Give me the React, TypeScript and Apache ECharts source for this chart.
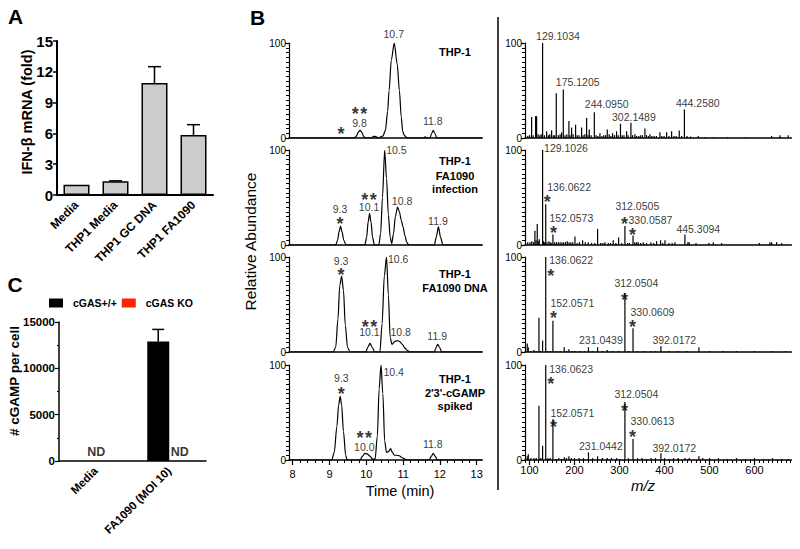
import React, { useEffect, useRef } from 'react';
import * as echarts from 'echarts';

const FONT = "'Liberation Sans', Arial, Helvetica, sans-serif";

// ---------- Panel A ----------
const aCategories = ['Media', 'THP1 Media', 'THP1 GC DNA', 'THP1 FA1090'];
const aValues = [1.0, 1.33, 10.9, 5.85];
const aErrors = [0, 0.05, 1.6, 1.0];

// ---------- Panel C ----------
const cCategories = ['Media', 'FA1090 (MOI 10)'];
const cWildType = [0, 12900];
const cWildTypeError = [0, 1300];
const cKnockout = [0, 0];
const cNotDetected: [number, number, string][] = [[0, 0, 'ND'], [1, 0, 'ND']];

// ---------- Panel B: chromatograms ----------
const chromTimeTicks = [8, 9, 10, 11, 12, 13];
const chromNames = [
  ['THP-1'],
  ['THP-1', 'FA1090', 'infection'],
  ['THP-1', 'FA1090 DNA'],
  ['THP-1', "2'3'-cGAMP", 'spiked'],
];
const chromTHP1 = [
  [7.9, 0], [9.68, 0], [9.73, 2], [9.78, 6], [9.83, 8], [9.88, 6], [9.93, 1.5], [9.98, 0], [10.14, 0], [10.2, 1.8], [10.26, 1.5], [10.32, 0],
  [10.45, 2], [10.52, 8], [10.58, 28], [10.62, 50], [10.68, 82], [10.76, 100], [10.84, 78], [10.9, 50], [10.95, 22], [10.99, 7], [11.03, 3], [11.08, 1], [11.14, 0],
  [11.55, 0], [11.6, 1.2], [11.65, 0], [11.73, 0], [11.78, 5], [11.82, 8], [11.86, 5], [11.92, 0], [13.15, 0],
];
const chromInfection = [
  [7.9, 0], [9.17, 0], [9.22, 5], [9.26, 14], [9.3, 20], [9.34, 14], [9.39, 5], [9.45, 0], [9.96, 0], [10.01, 8], [10.05, 24], [10.09, 33], [10.13, 24], [10.17, 8], [10.22, 0],
  [10.34, 0], [10.39, 12], [10.44, 50], [10.5, 100], [10.55, 70], [10.6, 32], [10.65, 8], [10.69, 1.5], [10.74, 12], [10.79, 30], [10.85, 40], [10.9, 35], [10.95, 26], [11.0, 19], [11.05, 10], [11.1, 3], [11.15, 0],
  [11.85, 0], [11.9, 8], [11.96, 19], [12.02, 8], [12.08, 0], [13.15, 0],
];
const chromDNA = [
  [7.9, 0], [9.1, 0], [9.17, 5], [9.23, 35], [9.28, 70], [9.33, 80], [9.38, 65], [9.43, 28], [9.49, 5], [9.56, 0], [9.99, 0], [10.04, 5], [10.1, 9], [10.16, 5], [10.23, 0],
  [10.37, 0], [10.43, 30], [10.49, 80], [10.55, 100], [10.6, 60], [10.65, 15], [10.7, 8], [10.77, 11], [10.84, 12], [10.91, 11], [10.98, 8], [11.05, 4], [11.12, 1.5], [11.19, 0],
  [11.85, 0], [11.9, 5], [11.94, 8], [11.99, 5], [12.05, 0], [13.15, 0],
];
const chromSpiked = [
  [7.9, 0], [9.06, 0], [9.13, 8], [9.2, 35], [9.25, 58], [9.29, 67], [9.33, 58], [9.38, 30], [9.44, 5], [9.48, 0], [9.83, 0], [9.9, 4], [9.96, 7], [10.02, 6.5], [10.1, 4], [10.17, 1], [10.24, 1],
  [10.3, 25], [10.35, 75], [10.4, 100], [10.45, 70], [10.5, 20], [10.55, 8], [10.61, 9], [10.66, 12], [10.71, 8], [10.76, 5], [10.83, 5], [10.9, 4.5], [10.95, 3], [11.0, 2], [11.05, 1], [11.1, 0],
  [11.71, 0], [11.77, 4], [11.82, 7], [11.87, 4], [11.93, 0], [13.15, 0],
];
const chromLabels1: [number, number, string][] = [[9.33, 0, '*'], [9.83, 8, '**'], [9.83, 8, '9.8'], [10.76, 100, '10.7'], [11.82, 8, '11.8']];
const chromLabels2: [number, number, string][] = [[9.3, 20, '9.3'], [9.3, 20, '*'], [10.09, 33, '**'], [10.09, 33, '10.1'], [10.5, 100, '10.5'], [10.85, 40, '10.8'], [11.96, 19, '11.9']];
const chromLabels3: [number, number, string][] = [[9.33, 80, '9.3'], [9.33, 80, '*'], [10.1, 9, '**'], [10.1, 9, '10.1'], [10.55, 100, '10.6'], [10.84, 12, '10.8'], [11.94, 8, '11.9']];
const chromLabels4: [number, number, string][] = [[9.29, 67, '9.3'], [9.29, 67, '*'], [9.96, 7, '**'], [9.96, 7, '10.0'], [10.4, 100, '10.4'], [11.82, 7, '11.8']];

// ---------- Panel B: mass spectra ----------
const mzTicks = [100, 200, 300, 400, 500, 600];
const msTHP1 = [
  [96, 2], [100, 3], [104.7, 22], [108, 3], [113.5, 23], [115.8, 23], [119, 4], [123, 3], [126, 4], [129.1034, 100], [133, 3], [138, 7], [142, 3], [145, 4], [149.1, 8], [153, 3], [156, 3],
  [159.5, 47], [164, 3], [168, 4], [171.3, 6], [175.1205, 51], [179, 3], [183, 4], [187.6, 18], [190, 3], [193.5, 11], [197, 4], [202.4, 14], [206, 3], [210, 3], [215.8, 11], [219, 3], [223, 4],
  [226.9, 21], [230, 3], [232.8, 9], [237, 3], [244.095, 27], [248, 3], [252, 2], [256.5, 5], [261, 2], [265, 3], [269, 3], [272.8, 9], [277, 4], [281, 2], [284.7, 5], [289, 3], [293.5, 7], [297, 3],
  [302.1489, 15], [306, 3], [310, 3], [315.8, 7], [319, 3], [325.4, 16], [329, 3], [334.3, 4], [338, 2], [343, 2], [347, 3], [351, 3], [356.5, 10], [360, 3], [364, 2], [367.6, 4], [372, 2], [377, 2],
  [382, 2], [389.8, 6], [394, 2], [399, 2], [404.7, 6], [410, 2], [415.8, 7], [421, 2], [426, 2], [432.8, 8], [438, 2], [444.258, 30], [450, 2], [458, 1.5], [475, 2], [490, 1], [510, 1], [540, 1],
  [580, 1], [638, 2], [656.5, 3], [675, 3],
];
const msInfection = [
  [96, 3], [101, 3], [105, 4], [109, 3], [112, 15], [114.5, 5], [117.2, 22], [119.5, 4], [121.7, 6], [129.1026, 100], [131, 4], [133, 3], [136.0622, 43], [139, 3], [143.2, 4], [146, 3], [149, 2],
  [152.0573, 11], [156, 3], [160, 3], [164, 3], [168, 3], [172, 3], [176, 3], [180, 3], [184, 4], [188, 3], [192, 3], [196, 3], [201, 9], [206, 2], [211, 3], [218, 5], [224, 3], [230.6, 3], [238, 2],
  [245, 2], [251.3, 17], [258, 2], [263, 2], [267.6, 3], [275, 2], [280, 2], [286.1, 5], [292, 2], [298, 8], [305, 2], [312.0505, 20], [318, 2], [322, 2], [330.0587, 10], [334, 3], [338, 3],
  [341.7, 3], [347, 2], [352.8, 3], [360, 2], [369.8, 3], [376, 2], [382.4, 4], [391.3, 5], [396, 2], [401, 5], [410, 2], [417, 2], [423.2, 3], [445.3094, 11], [452, 3], [455, 3], [470, 2],
  [498.7, 2], [508.4, 3], [526.9, 2], [610.6, 2], [634.3, 3], [638, 3], [649.1, 3], [660.2, 2],
];
const msDNA = [
  [95, 9], [97.3, 5], [103, 1], [109.8, 2], [115, 1], [121, 36], [125, 1], [129.1, 12], [136.0622, 100], [140, 1], [146, 1], [152.0571, 33], [160, 1], [168, 1], [177.2, 5], [182, 1], [187.6, 3],
  [195, 1], [200.9, 1], [212, 1], [222, 1], [231.0439, 5], [240, 1], [251.3, 5], [262, 1], [272.8, 2], [285, 1], [298, 1], [312.0504, 62], [320, 1], [330.0609, 25], [340, 1], [355, 1],
  [370, 1], [380, 1], [392.0172, 6], [410, 1], [430, 1], [450, 1], [476.5, 5], [500, 1], [530, 1], [560, 1], [600, 1], [640, 1], [670, 1],
];
const msSpiked = [
  [95, 4], [97.3, 6], [103, 2], [109.8, 2], [115, 2], [121, 57], [125, 2], [129.1, 15], [136.0623, 100], [141, 2], [146, 2], [152.0571, 43], [158, 1], [165, 2], [172, 1], [177.2, 3], [182, 2],
  [187.6, 4], [193, 2], [200, 2], [210, 2], [220, 2], [231.0442, 8], [240, 2], [251.3, 4], [262, 2], [272.8, 2], [282, 2], [293.5, 2], [302, 1], [312.0504, 61], [320, 2], [330.0613, 22],
  [340, 2], [350, 2], [360, 1], [370, 2], [380, 2], [392.0172, 7], [400, 2], [410, 1], [420, 2], [430, 2], [445.4, 2], [455, 2], [476.5, 4], [485, 2], [500, 2], [520, 2], [540, 1], [560, 2],
  [580, 1], [600, 2], [620, 1], [640, 2], [660, 1], [675, 1],
];
const msLabels1: [number, number, string][] = [[129.1034, 100, '129.1034'], [175.1205, 51, '175.1205'], [244.095, 27, '244.0950'], [302.1489, 15, '302.1489'], [444.258, 30, '444.2580']];
const msLabels2: [number, number, string][] = [
  [129.1026, 100, '129.1026'], [136.0622, 43, '136.0622'], [136.0622, 43, '*'], [152.0573, 11, '152.0573'], [152.0573, 11, '*'],
  [312.0505, 20, '312.0505'], [312.0505, 20, '*'], [330.0587, 10, '330.0587'], [330.0587, 10, '*'], [445.3094, 11, '445.3094'],
];
const msLabels3: [number, number, string][] = [
  [136.0622, 100, '136.0622'], [136.0622, 100, '*'], [152.0571, 33, '152.0571'], [152.0571, 33, '*'], [312.0504, 62, '312.0504'], [312.0504, 62, '*'],
  [330.0609, 25, '330.0609'], [330.0609, 25, '*'], [231.0439, 5, '231.0439'], [392.0172, 6, '392.0172'],
];
const msLabels4: [number, number, string][] = [
  [136.0623, 100, '136.0623'], [136.0623, 100, '*'], [152.0571, 43, '152.0571'], [152.0571, 43, '*'], [312.0504, 61, '312.0504'], [312.0504, 61, '*'],
  [330.0613, 22, '330.0613'], [330.0613, 22, '*'], [231.0442, 8, '231.0442'], [392.0172, 7, '392.0172'],
];

// ---------- layout (pixel offsets of annotations: [dx, dy, align]) ----------
const chromLayout = [
  [[0, -8], [0, -20], [0, -3.5], [0, -4.7], [0, -5.4]],
  [[0, -12.7], [0, -5.3], [0, -17], [0, -2.3], [2, 4, 'left'], [5, -2], [0, -2.3]],
  [[0, -11], [0, -4.3], [0, -20.5], [0, -7.3], [2, 5.7, 'left'], [4, -4.3], [0, -4]],
  [[1.7, -14], [1.7, -5.7], [0, -18.5], [0, -2.6], [3, 11, 'left'], [0, -5]],
];
const msLayout = [
  [[-6, -3, 'left'], [-7, -3, 'left'], [-9, -4, 'left'], [-8, -3, 'left'], [-8, -2, 'left']],
  [[2, 2, 'left'], [2, -13.4, 'left'], [2, -6], [-3, -12.6, 'left'], [1, -5.6], [-9, -16, 'left'], [0, -6], [-4, -11.3, 'left'], [0, -4], [-8, -1.7, 'left']],
  [[4, 7.3, 'left'], [5.6, 15.6], [-2, -13.4, 'left'], [1, -6], [-10, -6, 'left'], [0, 3.4], [-2, -12.3, 'left'], [0, -4.7], [-9, -2.7, 'left'], [-8, -1.7, 'left']],
  [[4, 8.4, 'left'], [5.6, 15.7], [-2, -2.3, 'left'], [1, 4.4], [-10, -4.3, 'left'], [0, 5], [-2, -14, 'left'], [0, -5.6], [-9, -2.4, 'left'], [-8, -1.7, 'left']],
];

const chromTop = [43, 150, 257, 365];
const panelH = 95;

function labelItem(entry: [number, number, string], layout: any[]) {
  const [x, y, text] = entry;
  const [dx, dy, align] = layout;
  const star = /^\*+$/.test(text);
  const fs = star ? 18 : 10.5;
  return {
    value: [x, y],
    label: {
      show: true,
      formatter: star ? text.split('').join('\u200A') : text,
      position: [dx, star ? dy + 0.228 * fs : dy - 0.347 * fs],
      align: align || 'center',
      verticalAlign: 'middle',
      fontSize: fs,
      lineHeight: star ? 4 : 7,
      fontWeight: star ? 'bold' : 'normal',
      fontFamily: FONT,
      color: '#000',
    },
  };
}

function errorRender(offset: number, half: number) {
  return (_params: any, api: any) => {
    const x = api.value(0);
    const v = api.value(1);
    const e = api.value(2);
    if (!e) return { type: 'group', children: [] };
    const p0 = api.coord([x, v]);
    const p1 = api.coord([x, v + e]);
    const cx = p0[0] + offset;
    return {
      type: 'group',
      children: [
        { type: 'line', shape: { x1: cx, y1: p0[1], x2: cx, y2: p1[1] }, style: { stroke: '#000', lineWidth: 1.5 } },
        { type: 'line', shape: { x1: cx - half, y1: p1[1], x2: cx + half, y2: p1[1] }, style: { stroke: '#000', lineWidth: 1.5 } },
      ],
    };
  };
}

function minorTicks(from: number, to: number, step: number, major: number) {
  const out: number[] = [];
  for (let i = Math.round(from / step); i * step <= to + 1e-9; i++) {
    const v = Math.round(i * step * 1000) / 1000;
    if (Math.abs(v / major - Math.round(v / major)) > 1e-6) out.push(v);
  }
  return out;
}

function buildOption() {
  const black = '#000';
  const chromTraces = [chromTHP1, chromInfection, chromDNA, chromSpiked];
  const chromLabels = [chromLabels1, chromLabels2, chromLabels3, chromLabels4];
  const msData = [msTHP1, msInfection, msDNA, msSpiked];
  const msLabels = [msLabels1, msLabels2, msLabels3, msLabels4];

  const grid: any[] = [
    { left: 57, top: 41, width: 156, height: 154 },
    { left: 59, top: 322, width: 147, height: 139 },
  ];
  chromTop.forEach((t) => grid.push({ left: 289, top: t, width: 193.2, height: panelH }));
  chromTop.forEach((t) => grid.push({ left: 525, top: t, width: 266.4, height: panelH }));

  const xAxis: any[] = [
    {
      type: 'category', gridIndex: 0, data: aCategories,
      axisLine: { lineStyle: { color: black, width: 2 } },
      axisTick: { alignWithLabel: true, length: 5, lineStyle: { color: black, width: 1.5 } },
      axisLabel: { rotate: 45, interval: 0, fontWeight: 'bold', fontSize: 12, color: black, margin: 8, fontFamily: FONT },
    },
    {
      type: 'category', gridIndex: 1, data: cCategories,
      axisLine: { lineStyle: { color: black, width: 1.5 } },
      axisTick: { alignWithLabel: true, length: 4, lineStyle: { color: black, width: 1.2 } },
      axisLabel: { rotate: 45, interval: 0, fontWeight: 'bold', fontSize: 11.5, color: black, margin: 8, fontFamily: FONT },
    },
  ];
  const yAxis: any[] = [
    {
      type: 'value', gridIndex: 0, min: 0, max: 15, interval: 3,
      axisLine: { show: true, lineStyle: { color: black, width: 2 } },
      axisTick: { show: true, length: 4, lineStyle: { color: black, width: 1.5 } },
      axisLabel: { fontWeight: 'bold', fontSize: 15, color: black, margin: 4, fontFamily: FONT },
      splitLine: { show: false },
    },
    {
      type: 'value', gridIndex: 1, min: 0, max: 15000, interval: 5000,
      axisLine: { show: true, lineStyle: { color: black, width: 1.5 } },
      axisTick: { show: true, length: 4, lineStyle: { color: black, width: 1.2 } },
      minorTick: { show: true, splitNumber: 2, length: 2, lineStyle: { color: black, width: 1 } },
      axisLabel: { fontWeight: 'bold', fontSize: 11.5, color: black, margin: 4, fontFamily: FONT, formatter: (v: number) => String(v) },
      splitLine: { show: false },
    },
  ];
  for (let i = 0; i < 4; i++) {
    const bottom = i === 3;
    xAxis.push({
      type: 'value', gridIndex: 2 + i, min: 7.9, max: 13.15, position: 'bottom',
      axisLine: { show: true, onZero: false, lineStyle: { color: black, width: 1.5 } },
      axisTick: { show: bottom, length: 5, customValues: chromTimeTicks, lineStyle: { color: black, width: 1.2 } },
      axisLabel: { show: bottom, customValues: chromTimeTicks, fontSize: 11, color: black, margin: 8, fontFamily: FONT },
      splitLine: { show: false },
    });
    yAxis.push({
      type: 'value', gridIndex: 2 + i, min: 0, max: 100, interval: 100,
      axisLine: { show: true, lineStyle: { color: black, width: 1.2 } },
      axisTick: { show: true, length: 4, lineStyle: { color: black, width: 1.2 } },
      minorTick: { show: true, splitNumber: 20, length: 3, lineStyle: { color: black, width: 1 } },
      axisLabel: { fontSize: 10, color: black, margin: 3, fontFamily: FONT },
      splitLine: { show: false },
    });
  }
  for (let i = 0; i < 4; i++) {
    const bottom = i === 3;
    xAxis.push({
      type: 'value', gridIndex: 6 + i, min: 90, max: 682, position: 'bottom',
      axisLine: { show: true, onZero: false, lineStyle: { color: black, width: 1.5 } },
      axisTick: { show: bottom, length: 5, customValues: mzTicks, lineStyle: { color: black, width: 1.2 } },
      axisLabel: { show: bottom, customValues: mzTicks, fontSize: 11, color: black, margin: 4, fontFamily: FONT },
      splitLine: { show: false },
    });
    yAxis.push({
      type: 'value', gridIndex: 6 + i, min: 0, max: 100, interval: 100,
      axisLine: { show: true, lineStyle: { color: black, width: 1.2 } },
      axisTick: { show: true, length: 4, lineStyle: { color: black, width: 1.2 } },
      minorTick: { show: true, splitNumber: 20, length: 3, lineStyle: { color: black, width: 1 } },
      axisLabel: { fontSize: 10, color: black, margin: 3, fontFamily: FONT },
      splitLine: { show: false },
    });
  }
  // minor tick axes (index 10: chromatogram, 11: mass spectrum)
  xAxis.push({
    type: 'value', gridIndex: 5, min: 7.9, max: 13.15, position: 'bottom',
    axisLine: { show: false }, axisLabel: { show: false }, splitLine: { show: false },
    axisTick: { show: true, length: 3, customValues: minorTicks(8, 13, 0.2, 1), lineStyle: { color: black, width: 1 } },
  });
  xAxis.push({
    type: 'value', gridIndex: 9, min: 90, max: 682, position: 'bottom',
    axisLine: { show: false }, axisLabel: { show: false }, splitLine: { show: false },
    axisTick: { show: true, length: 3, customValues: minorTicks(90, 680, 10, 100), lineStyle: { color: black, width: 1 } },
  });

  const series: any[] = [
    {
      type: 'bar', xAxisIndex: 0, yAxisIndex: 0, data: aValues, barWidth: 26,
      itemStyle: { color: '#cccccc', borderColor: black, borderWidth: 1.5 }, silent: true,
    },
    {
      type: 'custom', xAxisIndex: 0, yAxisIndex: 0, renderItem: errorRender(0, 6.5), silent: true, z: 5,
      data: aValues.map((v, i) => [i, v, aErrors[i]]),
    },
    {
      name: 'cGAS+/+', type: 'bar', xAxisIndex: 1, yAxisIndex: 1, data: cWildType, barWidth: 22, barGap: '0%',
      itemStyle: { color: black }, silent: true,
    },
    {
      name: 'cGAS KO', type: 'bar', xAxisIndex: 1, yAxisIndex: 1, data: cKnockout, barWidth: 22,
      itemStyle: { color: '#ff2200' }, silent: true,
    },
    {
      type: 'custom', xAxisIndex: 1, yAxisIndex: 1, renderItem: errorRender(-11, 6), silent: true, z: 5,
      data: cWildType.map((v, i) => [i, v, cWildTypeError[i]]),
    },
    {
      type: 'scatter', xAxisIndex: 1, yAxisIndex: 1, symbolSize: 1, itemStyle: { color: 'rgba(0,0,0,0)' }, silent: true,
      data: cNotDetected.map((d, i) => ({
        value: [d[0], d[1]],
        label: {
          show: true, formatter: d[2], position: [i === 0 ? 1 : 11, -9], align: 'center', verticalAlign: 'middle',
          fontSize: 12.5, fontWeight: 'bold', fontFamily: FONT, color: black,
        },
      })),
    },
  ];
  for (let i = 0; i < 4; i++) {
    series.push({
      type: 'line', xAxisIndex: 2 + i, yAxisIndex: 2 + i, data: chromTraces[i], showSymbol: false, symbol: 'none',
      smooth: 0.3, smoothMonotone: 'x', lineStyle: { color: black, width: 1.2 }, silent: true, z: 3,
    });
    series.push({
      type: 'scatter', xAxisIndex: 2 + i, yAxisIndex: 2 + i, symbolSize: 1, itemStyle: { color: 'rgba(0,0,0,0)' }, silent: true, z: 6,
      data: chromLabels[i].map((l, j) => labelItem(l, chromLayout[i][j])),
    });
    series.push({
      type: 'bar', xAxisIndex: 6 + i, yAxisIndex: 6 + i, data: msData[i], barWidth: 1.2,
      itemStyle: { color: black }, silent: true, z: 3,
    });
    series.push({
      type: 'scatter', xAxisIndex: 6 + i, yAxisIndex: 6 + i, symbolSize: 1, itemStyle: { color: 'rgba(0,0,0,0)' }, silent: true, z: 6,
      data: msLabels[i].map((l, j) => labelItem(l, msLayout[i][j])),
    });
  }

  const txt = (text: string, x: number, y: number, size: number, weight = 'normal', extra: any = {}) => ({
    type: 'text', x, y, silent: true, rotation: extra.rotation || 0,
    style: {
      text, fontSize: size, fontWeight: weight, fontFamily: FONT, fill: black,
      align: 'center', verticalAlign: 'middle', textAlign: 'center', textVerticalAlign: 'middle',
      fontStyle: extra.fontStyle || 'normal',
    },
  });
  const nameLines: [number, number][][] = [[[455, 52]], [[455, 161], [455, 175.5], [455, 189]], [[455, 274], [455, 287.5]], [[455, 379], [455, 392.5], [455, 406]]];
  const graphic: any[] = [
    txt('A', 15.5, 16, 21, 'bold'),
    txt('B', 257.5, 17, 21, 'bold'),
    txt('C', 15, 284.5, 21, 'bold'),
    txt('IFN-β mRNA (fold)', 27, 112, 14.5, 'bold', { rotation: Math.PI / 2 }),
    txt('# cGAMP per cell', 14, 381, 13.5, 'bold', { rotation: Math.PI / 2 }),
    txt('Relative Abundance', 250, 241.5, 15.5, 'normal', { rotation: Math.PI / 2 }),
    txt('Time (min)', 400, 491, 14.5),
    txt('m/z', 643, 485, 15, 'normal', { fontStyle: 'italic' }),
    { type: 'line', silent: true, shape: { x1: 498, y1: 17, x2: 498, y2: 490 }, style: { stroke: black, lineWidth: 1.5 } },
  ];
  chromNames.forEach((lines, i) => lines.forEach((s, j) => {
    const [x, y] = nameLines[i][j];
    graphic.push(txt(s, x, y, 11, 'bold'));
  }));

  return {
    animation: false,
    backgroundColor: '#fff',
    textStyle: { fontFamily: FONT },
    legend: {
      data: ['cGAS+/+', 'cGAS KO'], left: 49, top: 297.5, padding: 0, itemWidth: 14, itemHeight: 9, itemGap: 5, icon: 'rect',
      selectedMode: false, textStyle: { fontWeight: 'bold', fontSize: 10.5, color: black, fontFamily: FONT, padding: [0, 0, 0, 5] },
    },
    grid, xAxis, yAxis, series, graphic,
  };
}

export default function App() {
  const ref = useRef<HTMLDivElement>(null);
  useEffect(() => {
    if (!ref.current) return;
    const chart = echarts.init(ref.current, undefined, { renderer: 'svg' });
    chart.setOption(buildOption() as any);
    return () => chart.dispose();
  }, []);
  return <div ref={ref} style={{ position: 'absolute', left: 0, top: 0, width: 800, height: 549, background: '#fff' }} />;
}
